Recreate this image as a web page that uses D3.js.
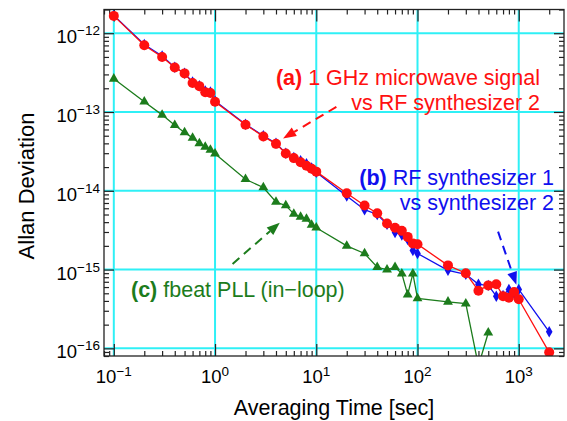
<!DOCTYPE html>
<html><head><meta charset="utf-8">
<script src="https://cdn.jsdelivr.net/npm/d3@7"></script>
<style>body{margin:0;background:#fff;}svg{display:block;font-family:"Liberation Sans",Arial,Helvetica,sans-serif;}</style>
</head><body><svg id="c" width="567" height="421"></svg>
<script>
const tau = [0.1,0.2,0.3,0.4,0.5,0.6,0.7,0.8,0.9,1,2,3,4,5,6,7,8,9,10,20,30,40,50,60,70,80,90,100,200,300,400,500,600,700,800,900,1000,2000];
const seriesA = [1.66e-12,7.05e-13,5.0e-13,3.68e-13,3.09e-13,2.33e-13,2.13e-13,1.78e-13,1.74e-13,1.35e-13,6.9e-14,4.9e-14,3.94e-14,2.97e-14,2.6e-14,2.3e-14,2.08e-14,1.9e-14,1.75e-14,9.3e-15,6.5e-15,5.2e-15,3.85e-15,3.4e-15,3.1e-15,2.6e-15,2.15e-15,2.1e-15,1.13e-15,9.0e-16,5.4e-16,6.3e-16,6.5e-16,4.6e-16,4.4e-16,5.2e-16,4.2e-16,8.9e-17];
const seriesB = [1.68e-12,7.2e-13,5.15e-13,3.7e-13,3.1e-13,2.4e-13,2.15e-13,1.85e-13,1.8e-13,1.38e-13,7.0e-14,5.0e-14,4.0e-14,3.0e-14,2.65e-14,2.4e-14,2.2e-14,1.95e-14,1.72e-14,8.6e-15,5.75e-15,5.0e-15,3.75e-15,2.95e-15,2.75e-15,2.4e-15,1.75e-15,1.6e-15,9.8e-16,8.7e-16,6.5e-16,6.3e-16,4.6e-16,4.7e-16,5.6e-16,5.0e-16,5.6e-16,1.62e-16];
const tauC = [0.1,0.2,0.3,0.4,0.5,0.6,0.7,0.8,0.9,1,2,3,4,5,6,7,8,9,10,20,30,40,50,60,70,80,90,100,200,300,400,500];
const seriesC = [2.64e-13,1.35e-13,9.2e-14,6.8e-14,5.5e-14,4.7e-14,4.0e-14,3.6e-14,3.3e-14,2.95e-14,1.4e-14,1.1e-14,7.2e-15,6.5e-15,5.1e-15,4.65e-15,4.4e-15,3.7e-15,3.4e-15,2.0e-15,1.6e-15,1.07e-15,1.0e-15,1.07e-15,8.9e-16,4.8e-16,8.9e-16,4.3e-16,3.9e-16,3.7e-16,6e-17,1.58e-16];
const xMajor = [0.1,1,10,100,1000];
const xMajorExp = ["−1","0","1","2","3"];
const yMajor = [1e-12,1e-13,1e-14,1e-15,1e-16];
const yMajorExp = ["−12","−13","−14","−15","−16"];
const xTitle = "Averaging Time [sec]";
const yTitle = "Allan Deviation";
const labelA = ["(a)"," 1 GHz microwave signal","vs RF synthesizer 2"];
const labelB = ["(b)"," RF synthesizer 1","vs synthesizer 2"];
const labelC = ["(c)"," fbeat PLL (in−loop)"];
// arrows [from tau, from y, to tau, to y]
const arrowA = [15.8,1.16e-13,4.7,4.62e-14];
const arrowB = [625,3.03e-15,948,6.4e-16];
const arrowC = [1.49,1.18e-15,4.36,3.94e-15];

const L=104,R=564,T=9.5,B=356;
const svg=d3.select("#c");
const x=d3.scaleLog().domain([0.08,2800]).range([L,R]);
const y=d3.scaleLog().domain([8e-17,2e-12]).range([B,T]);
const red="#ff1010", blue="#1010ee", green="#1c7c1c";

function minors(lo,hi){const out=[];for(let d=-17;d<=4;d++){for(let k=2;k<=9;k++){const v=k*Math.pow(10,d);if(v>=lo&&v<=hi)out.push(v);}}return out;}
const xMinor=minors(0.08,2800), yMinor=minors(8e-17,2e-12);

svg.append("defs").append("clipPath").attr("id","clip").append("rect").attr("x",L).attr("y",T).attr("width",R-L).attr("height",B-T);

// grid
const g=svg.append("g");
g.selectAll(".gx").data(xMajor).enter().append("line").attr("x1",d=>x(d)).attr("x2",d=>x(d)).attr("y1",T).attr("y2",B).attr("stroke","#2ff0f6").attr("stroke-width",2);
g.selectAll(".gy").data(yMajor).enter().append("line").attr("y1",d=>y(d)).attr("y2",d=>y(d)).attr("x1",L).attr("x2",R).attr("stroke","#2ff0f6").attr("stroke-width",2);

// axes ticks (inward)
function addAxis(axisFn,scale,vals,size,transform){
  const a=svg.append("g").attr("transform",transform).call(axisFn(scale).tickValues(vals).tickSize(-size).tickSizeOuter(0).tickFormat(""));
  a.select(".domain").remove();
  a.selectAll("line").attr("stroke","#222").attr("stroke-width",1.2);
}
addAxis(d3.axisBottom,x,xMajor,12,`translate(0,${B})`);
addAxis(d3.axisBottom,x,xMinor,5,`translate(0,${B})`);
addAxis(d3.axisTop,x,xMajor,12,`translate(0,${T})`);
addAxis(d3.axisTop,x,xMinor,5,`translate(0,${T})`);
addAxis(d3.axisLeft,y,yMajor,10,`translate(${L},0)`);
addAxis(d3.axisLeft,y,yMinor,5,`translate(${L},0)`);
addAxis(d3.axisRight,y,yMajor,10,`translate(${R},0)`);
addAxis(d3.axisRight,y,yMinor,5,`translate(${R},0)`);

// data
const plot=svg.append("g").attr("clip-path","url(#clip)");
const line=d3.line().x(d=>x(d[0])).y(d=>y(d[1]));
const dC=tauC.map((t,i)=>[t,seriesC[i]]);
const dB=tau.map((t,i)=>[t,seriesB[i]]);
const dA=tau.map((t,i)=>[t,seriesA[i]]);
plot.append("path").datum(dC).attr("d",line).attr("fill","none").attr("stroke",green).attr("stroke-width",1.3);
plot.selectAll(".tri").data(dC).enter().append("path").attr("d",d3.symbol(d3.symbolTriangle,42)).attr("transform",d=>`translate(${x(d[0])},${y(d[1])})`).attr("fill",green);
plot.append("path").datum(dB).attr("d",line).attr("fill","none").attr("stroke",blue).attr("stroke-width",1.3);
plot.selectAll(".dia").data(dB).enter().append("path").attr("d",d3.symbol(d3.symbolDiamond,38)).attr("transform",d=>`translate(${x(d[0])},${y(d[1])})`).attr("fill",blue);
plot.append("path").datum(dA).attr("d",line).attr("fill","none").attr("stroke",red).attr("stroke-width",1.3);
plot.selectAll(".cir").data(dA).enter().append("circle").attr("cx",d=>x(d[0])).attr("cy",d=>y(d[1])).attr("r",5).attr("fill",red);

// frame
svg.append("rect").attr("x",L).attr("y",T).attr("width",R-L).attr("height",B-T).attr("fill","none").attr("stroke","#222").attr("stroke-width",1.3);

// tick labels
const xl=svg.selectAll(".xl").data(xMajor).enter().append("text").attr("x",d=>x(d)).attr("y",383).attr("text-anchor","middle").attr("fill","#000").style("font-size","18.5px");
xl.append("tspan").text("10");
xl.append("tspan").attr("dy",-7).style("font-size","13.5px").text((d,i)=>xMajorExp[i]);
const yl=svg.selectAll(".yl").data(yMajor).enter().append("text").attr("x",100).attr("y",d=>y(d)+10).attr("text-anchor","end").attr("fill","#000").style("font-size","18.5px");
yl.append("tspan").text("10");
yl.append("tspan").attr("dy",-8).style("font-size","13.5px").text((d,i)=>yMajorExp[i]);

// titles
svg.append("text").attr("x",(L+R)/2).attr("y",415).attr("text-anchor","middle").style("font-size","21.5px").text(xTitle);
svg.append("text").attr("transform","translate(33.5,186) rotate(-90)").attr("text-anchor","middle").style("font-size","22px").text(yTitle);

// annotations
function label(lines,color,x0,y0,y1,anchor){
  const t1=svg.append("text").attr("x",x0).attr("y",y0).attr("text-anchor",anchor).attr("fill",color).style("font-size","21.5px");
  t1.append("tspan").style("font-weight","bold").text(lines[0]);
  t1.append("tspan").text(lines[1]);
  if(lines[2]) svg.append("text").attr("x",x0).attr("y",y1).attr("text-anchor",anchor).attr("fill",color).style("font-size","21.5px").text(lines[2]);
}
label(labelA,red,540,85,109.5,"end");
label(labelB,blue,554,185,210,"end");
label(labelC,green,131,296.5,null,"start");

function arrow(a,color){
  const x1=x(a[0]),y1=y(a[1]),x2=x(a[2]),y2=y(a[3]);
  const ang=Math.atan2(y2-y1,x2-x1), len=13, w=5;
  const bx=x2-len*Math.cos(ang), by=y2-len*Math.sin(ang);
  svg.append("line").attr("x1",x1).attr("y1",y1).attr("x2",bx).attr("y2",by).attr("stroke",color).attr("stroke-width",2).attr("stroke-dasharray","9,6");
  const px=-Math.sin(ang)*w, py=Math.cos(ang)*w;
  svg.append("path").attr("d",`M${x2},${y2}L${bx+px},${by+py}L${bx-px},${by-py}Z`).attr("fill",color);
}
arrow(arrowA,red);
arrow(arrowB,blue);
arrow(arrowC,green);
</script></body></html>
